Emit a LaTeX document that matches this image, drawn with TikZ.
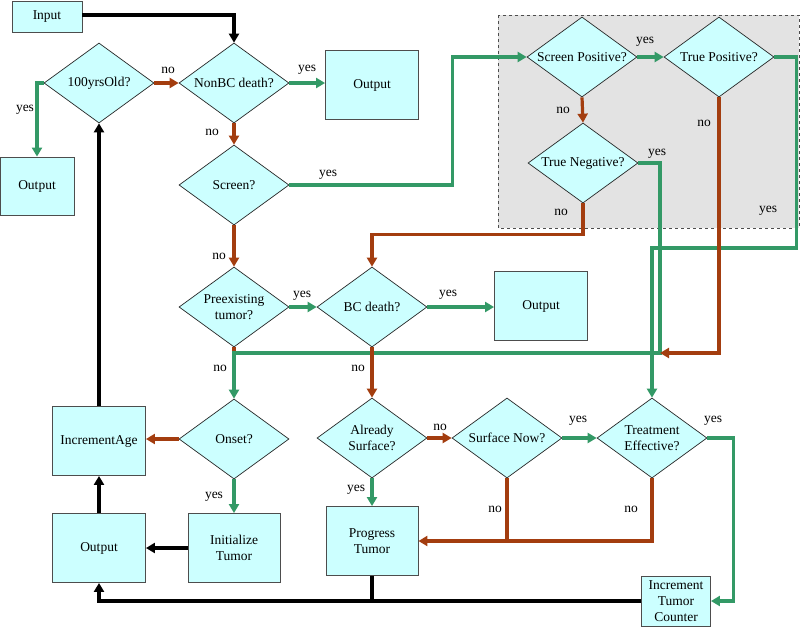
\documentclass[tikz,border=0pt]{standalone}
\usepackage{fontspec}
\setmainfont{Liberation Serif}
\usepackage{tikz}
\usetikzlibrary{arrows.meta,positioning,calc,shapes.geometric}
\definecolor{boxFill}{HTML}{CCFFFF}
\definecolor{yesC}{HTML}{339966}
\definecolor{noC}{HTML}{A33D0F}
\definecolor{boxD}{HTML}{4D4D4D}
\definecolor{panel}{HTML}{E3E3E3}

\begin{document}
\begin{tikzpicture}[x=1pt, y=-1pt, >={Triangle[length=9pt,width=10pt]},
  every node/.style={font=\fontsize{13.5}{16}\selectfont},
  proc/.style={draw=boxD, fill=boxFill, line width=0.9pt, align=center, inner sep=0pt, minimum width=93pt, minimum height=69pt},
  dec/.style={diamond, draw=black!85, fill=boxFill, line width=0.7pt, align=center, inner xsep=-20pt, inner ysep=0pt, minimum width=110pt, minimum height=80pt},
  yesL/.style={draw=yesC, line width=3.2pt, ->},
  noL/.style={draw=noC, line width=3.2pt, ->},
  blkL/.style={draw=black, line width=3.2pt, ->},
  lbl/.style={inner sep=0pt}]
\useasboundingbox (0,0) rectangle (800,627);
% screening panel
\fill[panel] (498,15) rectangle (799,228);
\draw[boxD, dashed, line width=0.9pt] (498,15) rectangle (799,228);
% boxes
\node[proc, minimum width=70pt, minimum height=31pt] (input) at (47,16.5) {Input};
\node[proc] (outT) at (372,85) {Output};
\node[proc, minimum width=74pt, minimum height=58pt] (outL) at (37,186) {Output};
\node[proc] (outM) at (541,306) {Output};
\node[proc] (incAge) at (99,441) {IncrementAge};
\node[proc] (outB) at (99,548) {Output};
\node[proc, minimum width=92pt] (initT) at (234,548) {Initialize\\Tumor};
\node[proc, minimum width=92pt] (prog) at (372,541) {Progress\\Tumor};
\node[proc, minimum width=69pt, minimum height=50pt] (itc) at (676,601) {Increment\\Tumor\\Counter};
% decisions
\node[dec] (old) at (99,83) {100yrsOld?};
\node[dec] (nonbc) at (234,83) {NonBC death?};
\node[dec] (screen) at (234,185) {Screen?};
\node[dec] (pre) at (234,307) {Preexisting\\tumor?};
\node[dec] (bcd) at (372,307) {BC death?};
\node[dec] (sp) at (582,57) {Screen Positive?};
\node[dec] (tp) at (719,57) {True Positive?};
\node[dec] (tn) at (583,163) {True Negative?};
\node[dec] (onset) at (234,439) {Onset?};
\node[dec] (as) at (372,438) {Already\\Surface?};
\node[dec] (sn) at (507,438) {Surface Now?};
\node[dec] (te) at (652,438) {Treatment\\Effective?};
\coordinate (merge) at (660,353);
\coordinate (mergeL) at (pre.south |- merge);
% connectors
\draw[blkL] ($(input.east)+(0,-1.5)$) -| (nonbc.north);
\draw[noL] (old.east) -- (nonbc.west);
\draw[yesL] (old.west) -| (outL.north);
\draw[yesL] (nonbc.east) -- (nonbc.east -| outT.west);
\draw[noL] (nonbc.south) -- (screen.north);
\draw[yesL] (screen.east) -- ++(163,0) |- (sp.west);
\draw[noL] (screen.south) -- (pre.north);
\draw[yesL] (sp.east) -- (tp.west);
\draw[noL] (sp.south) -- (tn.north);
\draw[noL] (tn.south) -- ++(0,31) -| (bcd.north);
\draw[yesL] (tp.east) -- ++(22,0) -- ++(0,191) -| (te.north);
\draw[noL, -] (pre.south) -- (mergeL);
\draw[yesL] (tn.east) -| (merge) -- (mergeL) -- (onset.north);
\draw[noL] (tp.south) |- (merge);
\draw[yesL] (pre.east) -- (bcd.west);
\draw[yesL] (bcd.east) -- (bcd.east -| outM.west);
\draw[noL] (bcd.south) -- (as.north);
\draw[noL] (onset.west) -- (onset.west -| incAge.east);
\draw[yesL] (onset.south) -- (initT.north);
\draw[blkL] (initT.west) -- (outB.east);
\draw[blkL] (outB.north) -- (incAge.south);
\draw[blkL] (incAge.north) -- (old.south);
\draw[noL] (as.east) -- (sn.west);
\draw[yesL] (as.south) -- (prog.north);
\draw[yesL] (sn.east) -- (te.west);
\draw[yesL] (te.east) -- ++(26,0) |- (itc.east);
\draw[noL, -] (te.south) |- (sn.south |- prog.east);
\draw[noL] (sn.south) |- (prog.east);
\draw[blkL] (itc.west) -| (outB.south);
\draw[blkL, -] (prog.south) -- (prog.south |- itc.west);
% branch labels
\node[lbl] (l1) at (168,70) {no};
\node[lbl] (l2) at (25,110) {yes};
\node[lbl] (l3) at (307,70) {yes};
\node[lbl] (l4) at (212,132) {no};
\node[lbl] (l5) at (328,175) {yes};
\node[lbl] (l6) at (219,256) {no};
\node[lbl] (l7) at (302,296) {yes};
\node[lbl] (l8) at (220,368) {no};
\node[lbl] (l9) at (358,368) {no};
\node[lbl] (l10) at (448,295) {yes};
\node[lbl] (l11) at (645,42) {yes};
\node[lbl] (l12) at (563,110) {no};
\node[lbl] (l13) at (704,123) {no};
\node[lbl] (l14) at (657,154) {yes};
\node[lbl] (l15) at (561,212) {no};
\node[lbl] (l16) at (768,211) {yes};
\node[lbl] (l17) at (440,427) {no};
\node[lbl] (l18) at (578,421) {yes};
\node[lbl] (l19) at (713,421) {yes};
\node[lbl] (l20) at (214,497) {yes};
\node[lbl] (l21) at (356,490) {yes};
\node[lbl] (l22) at (495,509) {no};
\node[lbl] (l23) at (631,509) {no};
\end{tikzpicture}
\end{document}
